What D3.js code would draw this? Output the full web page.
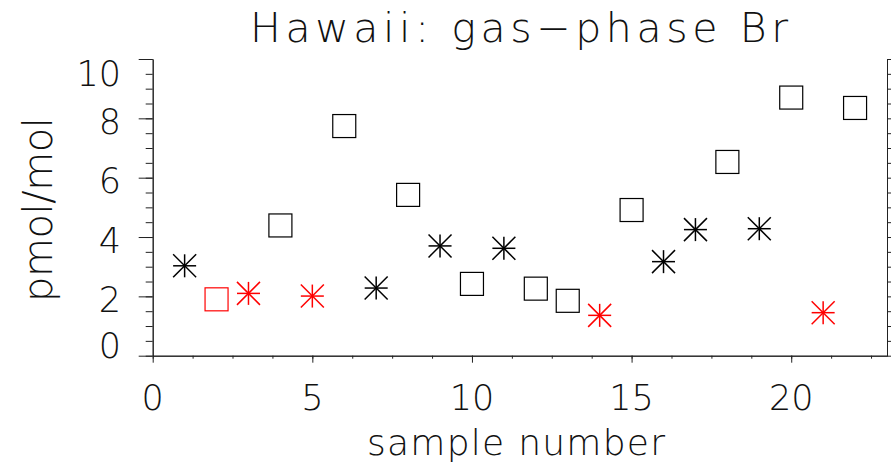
<!DOCTYPE html>
<html>
<head>
<meta charset="utf-8">
<script src="https://cdn.jsdelivr.net/npm/d3@7"></script>
<style>
  html, body { margin: 0; padding: 0; background: #fff; }
  svg { display: block; }
  text { font-family: "DejaVu Sans", "Liberation Sans", sans-serif; font-weight: 200; fill: #111; }
</style>
</head>
<body>
<script>
// ---- data ----
const sampleNumber = [1, 2, 3, 4, 5, 6, 7, 8, 9, 10, 11, 12, 13, 14, 15, 16, 17, 18, 19, 20, 21, 22];
const brValues     = [3.03, 1.90, 2.10, 4.39, 2.01, 7.74, 2.28, 5.42, 3.70, 2.42, 3.62, 2.26, 1.85, 1.36, 4.91, 3.17, 4.25, 6.53, 4.28, 8.70, 1.45, 8.35];
const symbolType   = ["ast", "sq", "ast", "sq", "ast", "sq", "ast", "sq", "ast", "sq", "ast", "sq", "sq", "ast", "sq", "ast", "ast", "sq", "ast", "sq", "ast", "sq"];
const isRed        = [0, 1, 1, 0, 1, 0, 0, 0, 0, 0, 0, 0, 0, 1, 0, 0, 0, 0, 0, 0, 1, 0];
const xMajorTicks  = [0, 5, 10, 15, 20];
const yMajorTicks  = [0, 2, 4, 6, 8, 10];
const titleText = "Hawaii: gas\u2212phase Br";
const xLabel = "sample number";
const yLabel = "pmol/mol";

const W = 891, H = 466;
const svg = d3.select("body").append("svg").attr("width", W).attr("height", H);

const x = d3.scaleLinear().domain([0, 23]).range([152.7, 887]);
const y = d3.scaleLinear().domain([0, 10]).range([355.7, 59]);

const xMinor = d3.range(0, 23.001, 1.25);
const yMinor = d3.range(0, 10.001, 0.5);

function styleAxis(g) {
  g.selectAll("path.domain").attr("stroke", "#222").attr("stroke-width", 1);
  g.selectAll(".tick line").attr("stroke", "#222").attr("stroke-width", 1);
  g.selectAll(".tick text").remove();
}

// bottom axis
svg.append("g").attr("transform", `translate(0,${y(0)})`)
  .call(d3.axisBottom(x).tickValues(xMinor).tickSize(3).tickSizeOuter(0)).call(styleAxis);
svg.append("g").attr("transform", `translate(0,${y(0)})`)
  .call(d3.axisBottom(x).tickValues(xMajorTicks).tickSize(7).tickSizeOuter(0)).call(styleAxis);
// left axis
svg.append("g").attr("transform", `translate(${x(0)},0)`)
  .call(d3.axisLeft(y).tickValues(yMinor).tickSize(7).tickSizeOuter(0)).call(styleAxis);
svg.append("g").attr("transform", `translate(${x(0)},0)`)
  .call(d3.axisLeft(y).tickValues(yMajorTicks).tickSize(14).tickSizeOuter(0)).call(styleAxis);
// right axis
svg.append("g").attr("transform", `translate(${x(23)},0)`)
  .call(d3.axisRight(y).tickValues(yMinor).tickSize(7).tickSizeOuter(0)).call(styleAxis);

// tick labels
svg.append("g").selectAll("text").data(xMajorTicks).join("text")
  .attr("x", d => x(d)).attr("y", 410)
  .attr("text-anchor", "middle").attr("font-size", 35)
  .text(d => d);

const yLabelShift = d => d === 10 ? 14 : (d === 0 ? -10 : 3);
svg.append("g").selectAll("text").data(yMajorTicks).join("text")
  .attr("x", 121).attr("y", d => y(d) + yLabelShift(d) + 12.5)
  .attr("text-anchor", "end").attr("font-size", 35)
  .text(d => d);

// titles
svg.append("text").attr("x", 250).attr("y", 42).attr("font-size", 41)
  .attr("textLength", 538).attr("lengthAdjust", "spacing").text(titleText);
svg.append("text").attr("x", 367).attr("y", 455).attr("font-size", 36)
  .attr("textLength", 298).attr("lengthAdjust", "spacing").text(xLabel);
svg.append("text").attr("transform", "translate(52,302) rotate(-90)").attr("font-size", 40)
  .attr("textLength", 185).attr("lengthAdjust", "spacing").text(yLabel);

// markers
const pts = sampleNumber.map((s, i) => ({ s, v: brValues[i], t: symbolType[i], red: isRed[i] }));
const half = 11.5;
const marks = svg.append("g");
pts.forEach(p => {
  const cx = x(p.s), cy = y(p.v);
  const col = p.red ? "#ff0000" : "#000";
  if (p.t === "sq") {
    marks.append("rect").attr("x", cx - half).attr("y", cy - half)
      .attr("width", 2 * half).attr("height", 2 * half)
      .attr("fill", "none").attr("stroke", col).attr("stroke-width", 1.2);
  } else {
    const g = marks.append("g").attr("stroke", col).attr("stroke-width", 1.5);
    [[-half, 0, half, 0], [0, -half, 0, half], [-half, -half, half, half], [-half, half, half, -half]]
      .forEach(l => g.append("line").attr("x1", cx + l[0]).attr("y1", cy + l[1]).attr("x2", cx + l[2]).attr("y2", cy + l[3]));
  }
});
</script>
</body>
</html>
